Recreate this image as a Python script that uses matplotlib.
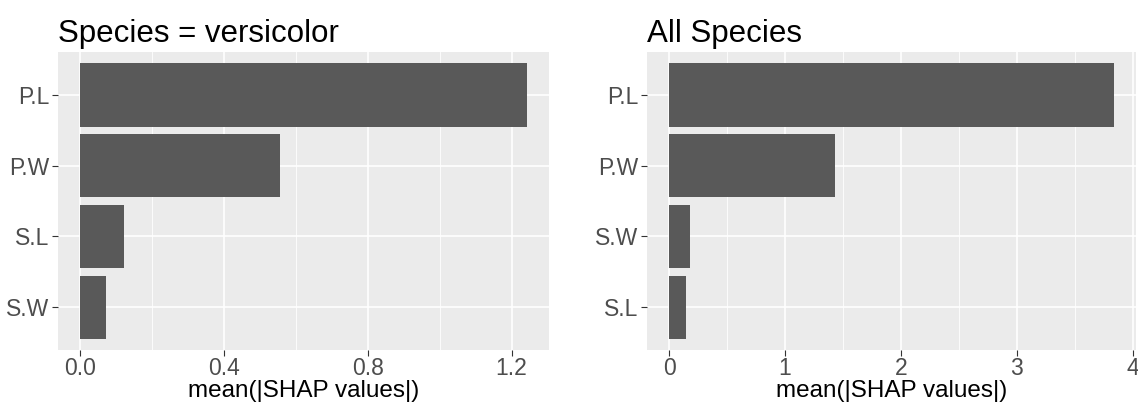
import matplotlib
matplotlib.use("Agg")
import matplotlib.pyplot as plt
from matplotlib.ticker import MultipleLocator

plt.rcParams['font.family'] = ['Liberation Sans', 'DejaVu Sans']

# Mean absolute SHAP values per feature
left_title = "Species = versicolor"
left_features = ["P.L", "P.W", "S.L", "S.W"]
left_values = [1.242, 0.556, 0.122, 0.071]
left_ticks = [0.0, 0.4, 0.8, 1.2]
left_ticklabels = ["0.0", "0.4", "0.8", "1.2"]

right_title = "All Species"
right_features = ["P.L", "P.W", "S.W", "S.L"]
right_values = [3.836, 1.431, 0.178, 0.141]
right_ticks = [0, 1, 2, 3, 4]
right_ticklabels = ["0", "1", "2", "3", "4"]

xlabel = "mean(|SHAP values|)"

W, H = 1138, 403
fig = plt.figure(figsize=(W / 100, H / 100), dpi=100)

panel_bg = "#EBEBEB"
bar_color = "#595959"


def panel(rect, title, feats, vals, ticks, ticklabels, minor_step):
    ax = fig.add_axes(rect)
    ax.set_facecolor(panel_bg)
    n = len(feats)
    ypos = list(range(n, 0, -1))  # first feature on top
    ax.barh(ypos, vals, height=0.9, color=bar_color, zorder=3)
    vmax = max(vals)
    ax.set_xlim(-0.05 * vmax, 1.05 * vmax)
    ax.set_ylim(0.4, n + 0.6)
    ax.set_yticks(ypos)
    ax.set_yticklabels(feats)
    ax.set_xticks(ticks)
    ax.set_xticklabels(ticklabels)
    ax.xaxis.set_minor_locator(MultipleLocator(minor_step))
    ax.grid(which="major", axis="both", color="white", linewidth=1.2, zorder=1)
    ax.grid(which="minor", axis="x", color="white", linewidth=0.6, zorder=1)
    for s in ax.spines.values():
        s.set_visible(False)
    ax.tick_params(axis="both", which="major", length=4.5, width=0.8,
                   color="#333333", labelcolor="#4D4D4D", labelsize=16.5, pad=1.5)
    ax.tick_params(axis="x", which="major", pad=0.5)
    ax.tick_params(axis="x", which="minor", length=0)
    ax.set_xlabel(xlabel, fontsize=17.5, color="black", labelpad=0)
    ax.set_title(title, loc="left", fontsize=22.5, color="black", pad=7)
    ax.set_axisbelow(True)
    return ax


panel([58 / W, 53 / H, 491 / W, 298 / H], left_title, left_features,
      left_values, left_ticks, left_ticklabels, 0.2)
panel([647 / W, 53 / H, 489 / W, 298 / H], right_title, right_features,
      right_values, right_ticks, right_ticklabels, 0.5)

fig.savefig("out.png", dpi=100, facecolor="white")
